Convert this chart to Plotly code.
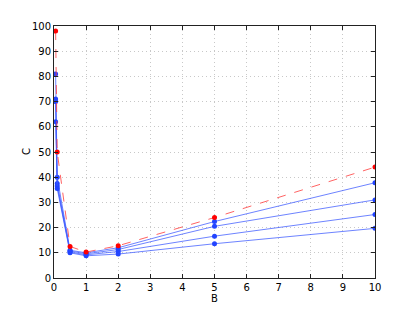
import plotly.graph_objects as go

x_vals = [0.05, 0.1, 0.5, 1, 2, 5, 10]
red_series = [98, 50, 12.5, 10.3, 12.8, 24.0, 44.0]
blue_1 = [81, 40, 11.0, 10.0, 12.0, 22.4, 37.8]
blue_2 = [71, 37.5, 10.7, 9.6, 11.3, 20.5, 31.0]
blue_3 = [70, 36.5, 10.3, 9.2, 10.5, 16.6, 25.2]
blue_4 = [62, 35.5, 10.0, 8.8, 9.5, 13.6, 19.7]
x_ticks = list(range(0, 11))
y_ticks = list(range(0, 101, 10))

fig = go.Figure()
for ys in [blue_1, blue_2, blue_3, blue_4]:
    fig.add_trace(go.Scatter(
        x=x_vals, y=ys, mode="lines+markers",
        line=dict(color="rgba(60,90,255,0.75)", width=1),
        marker=dict(color="#2244ff", size=5),
        showlegend=False))
fig.add_trace(go.Scatter(
    x=x_vals, y=red_series, mode="lines+markers",
    line=dict(color="rgba(255,60,60,0.8)", width=1, dash="dash"),
    marker=dict(color="#ff0000", size=5),
    showlegend=False))

axis_common = dict(
    showline=True, linecolor="#222", linewidth=1, mirror="ticks",
    ticks="inside", ticklen=4, tickcolor="#222",
    showgrid=True, gridcolor="#c8c8c8", griddash="1px,3px", gridwidth=1,
    zeroline=False, tickfont=dict(size=10, color="#000", family="DejaVu Sans"),
)
fig.update_xaxes(range=[0, 10], tickvals=x_ticks,
                 title=dict(text="B", font=dict(size=10, color="#000", family="DejaVu Sans"), standoff=2),
                 **axis_common)
fig.update_yaxes(range=[0, 100], tickvals=y_ticks, **axis_common)

fig.add_annotation(text="C", xref="paper", yref="paper", x=-0.087, y=0.5,
                   textangle=-90, showarrow=False, xanchor="center", yanchor="middle",
                   font=dict(size=10, color="#000", family="DejaVu Sans"))

fig.update_layout(
    width=415, height=313,
    margin=dict(l=46, r=48, t=15, b=43),
    plot_bgcolor="white", paper_bgcolor="white",
)
fig.write_html("out.html")
